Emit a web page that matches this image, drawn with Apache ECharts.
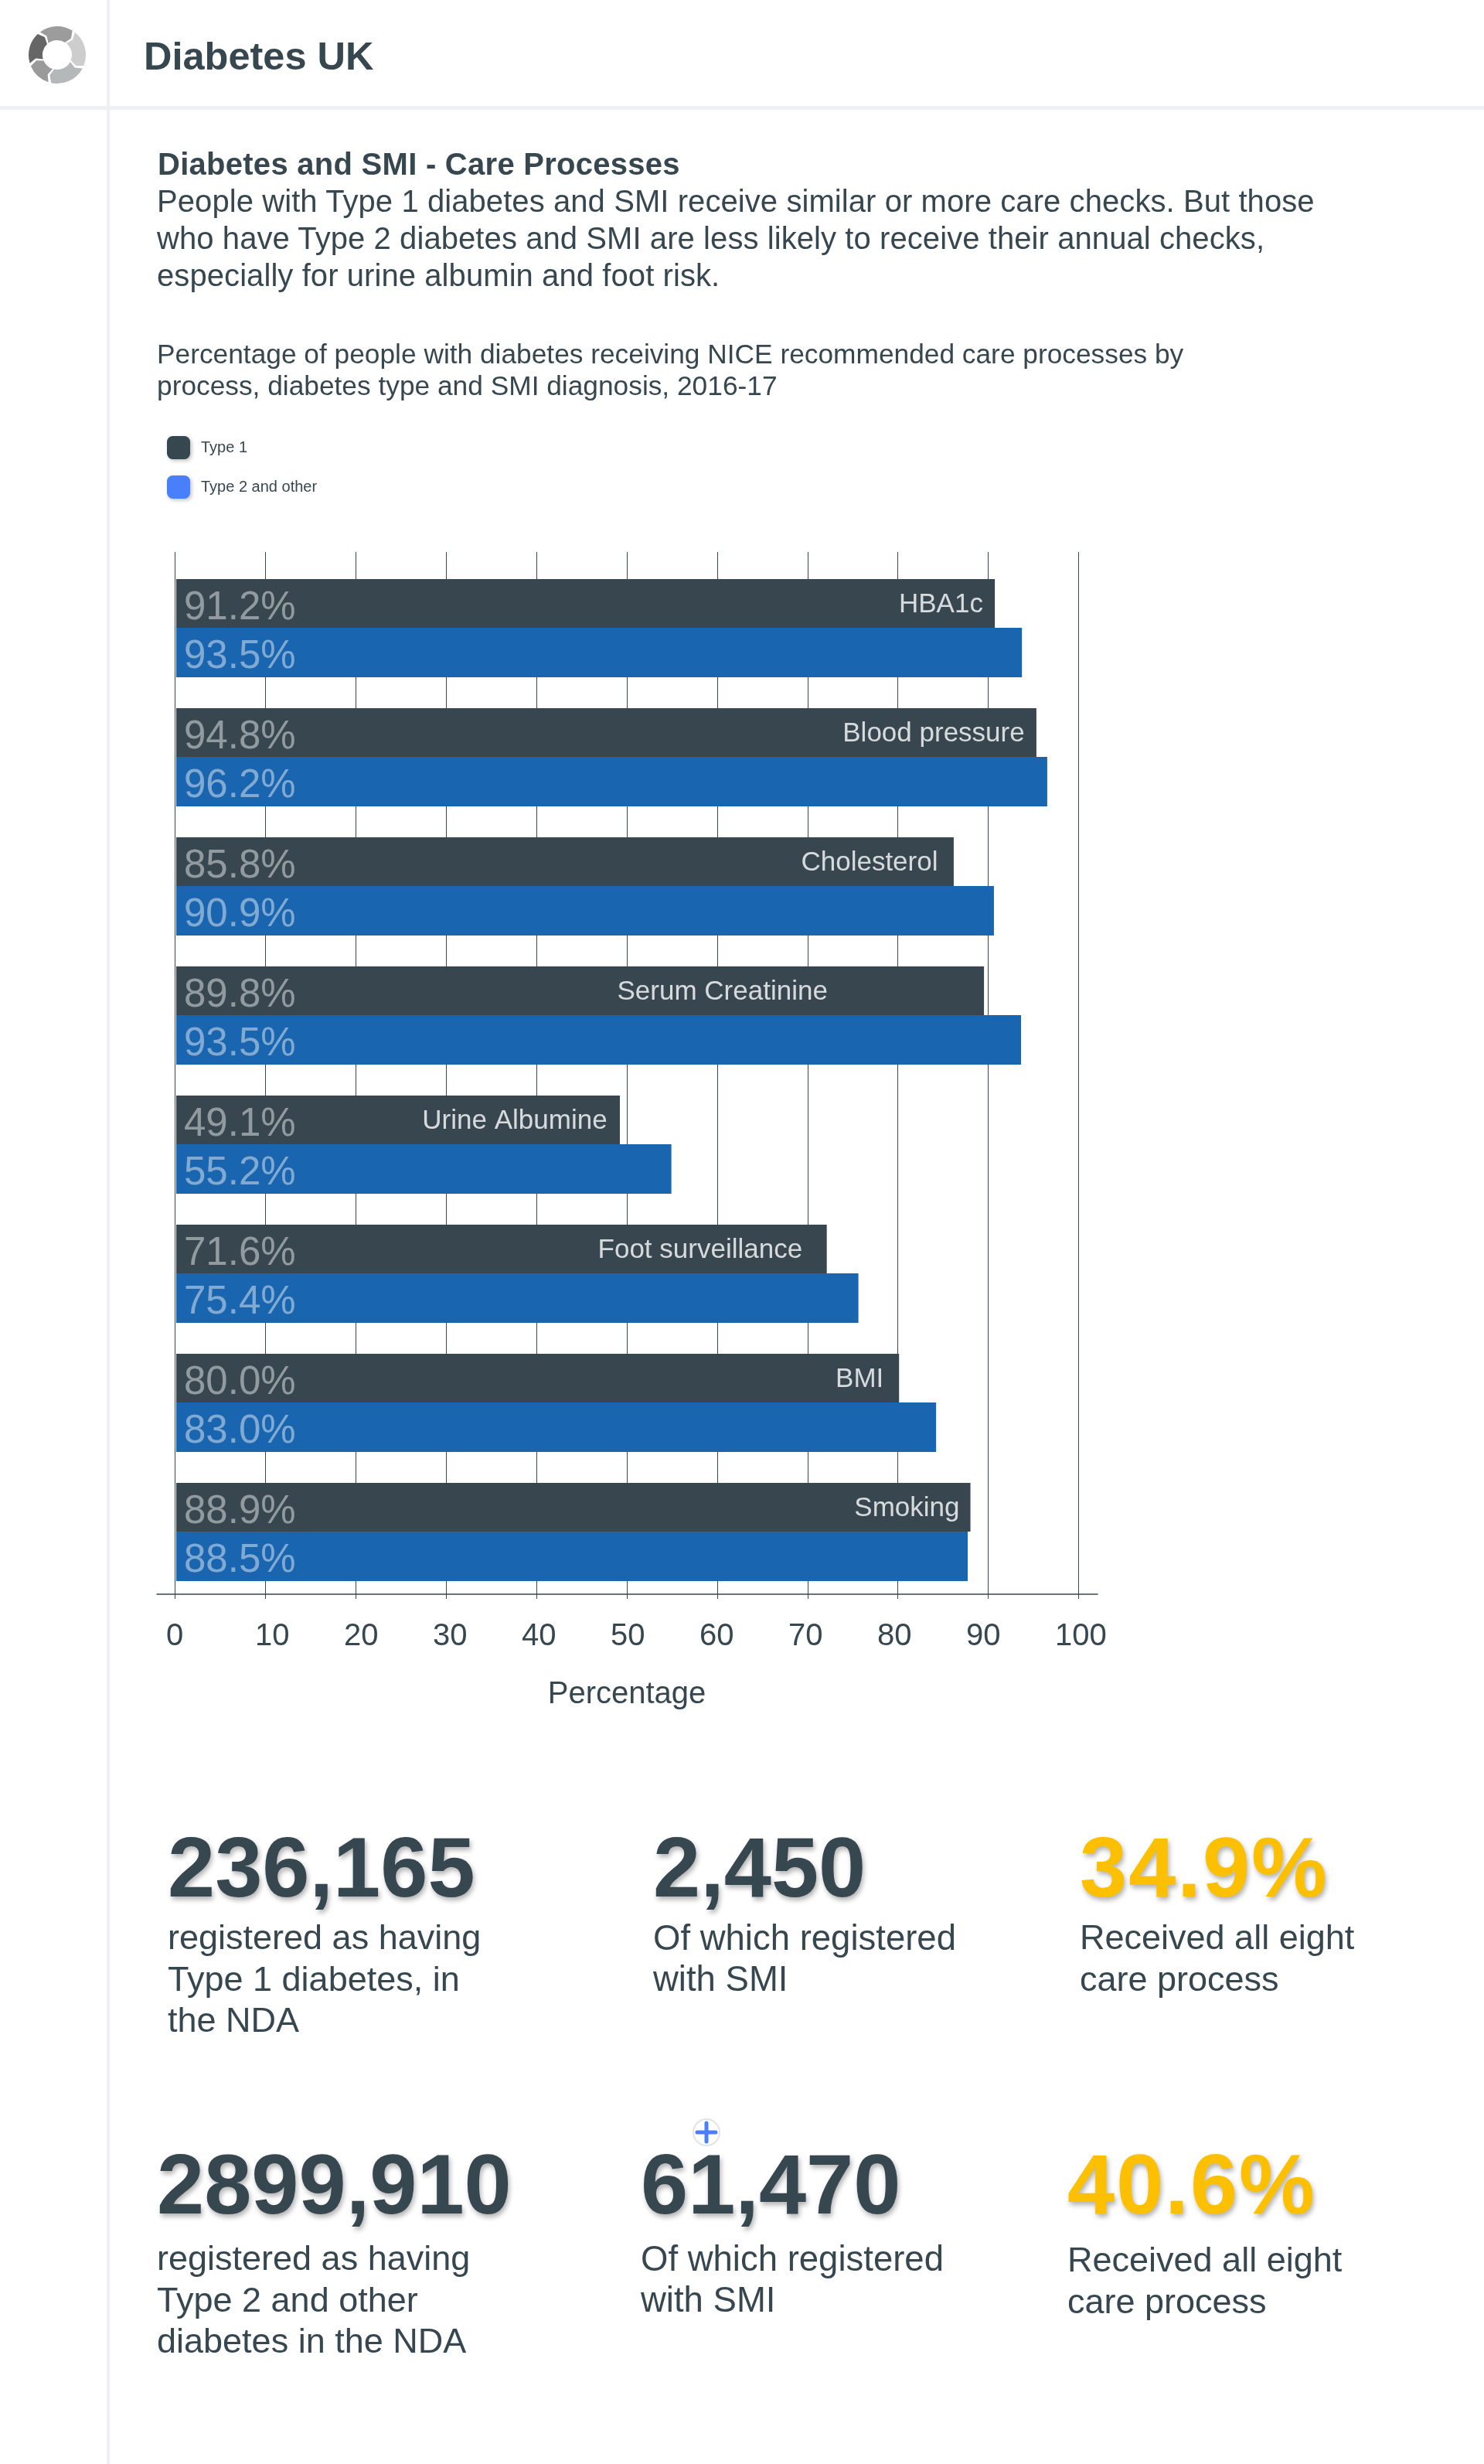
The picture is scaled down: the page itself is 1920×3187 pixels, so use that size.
<!DOCTYPE html>
<html>
<head>
<meta charset="utf-8">
<title>Diabetes UK</title>
<script src="https://cdn.jsdelivr.net/npm/echarts@6/dist/echarts.min.js"></script>
<style>
html,body{margin:0;padding:0;background:#fff;width:1920px;height:3187px;overflow:hidden;}
body{font-family:"Liberation Sans",Arial,sans-serif;color:#37474f;}
#chart{position:absolute;left:0;top:0;width:1920px;height:3187px;}
.t{position:absolute;white-space:nowrap;}
.rule{position:absolute;background:#eff0f4;}
#logo,#plus{position:absolute;}
</style>
</head>
<body>
<div id="chart"></div>
<div class="rule" style="left:138px;top:0;width:4px;height:3187px"></div>
<div class="rule" style="left:0;top:137px;width:1920px;height:5px"></div>
<svg id="logo" style="left:35px;top:32px" width="78" height="78" viewBox="0 0 78 78"></svg>
<svg id="plus" style="left:896px;top:2740px" width="36" height="36" viewBox="0 0 36 36">
  <circle cx="18" cy="18" r="17" fill="#fff" stroke="#e3e3e3" stroke-width="2"/>
  <path d="M18 6V30M6 18H30" stroke="#4a7ffb" stroke-width="5" stroke-linecap="round"/>
</svg>
<script>
// ---- data ----
const categories = ['HBA1c','Blood pressure','Cholesterol','Serum Creatinine','Urine Albumine','Foot surveillance','BMI','Smoking'];
const type1Bars = [90.6,95.2,86.05,89.4,49.1,72.0,80.0,87.9];
const type2Bars = [93.6,96.4,90.5,93.5,54.8,75.5,84.1,87.6];
const type1Labels = ['91.2%','94.8%','85.8%','89.8%','49.1%','71.6%','80.0%','88.9%'];
const type2Labels = ['93.5%','96.2%','90.9%','93.5%','55.2%','75.4%','83.0%','88.5%'];
const nameLabelEnds = [89.3,93.9,84.3,72.1,47.7,69.3,78.3,86.7];
const axisTicks = [0,100,10];
const seriesNames = ['Type 1','Type 2 and other'];
const heading = 'Diabetes UK';
const introTitle = 'Diabetes and SMI - Care Processes';
const introLines = ['People with Type 1 diabetes and SMI receive similar or more care checks. But those','who have Type 2 diabetes and SMI are less likely to receive their annual checks,','especially for urine albumin and foot risk.'];
const chartTitle = 'Percentage of people with diabetes receiving NICE recommended care processes by\nprocess, diabetes type and SMI diagnosis, 2016-17';
const xName = 'Percentage';
const stats = [
 {n:'236,165', c:'#37474f', x:217, b:2453, lines:['registered as having','Type 1 diabetes, in','the NDA'], tb:2521},
 {n:'2,450',   c:'#37474f', x:845, b:2453, lines:['Of which registered','with SMI'], tb:2521, ts:45.5},
 {n:'34.9%',   c:'#fcc000', x:1397, b:2453, ls:2, lines:['Received all eight','care process'], tb:2521},
 {n:'2899,910',c:'#37474f', x:203, b:2863, lines:['registered as having','Type 2 and other','diabetes in the NDA'], tb:2936},
 {n:'61,470',  c:'#37474f', x:829, b:2863, lines:['Of which registered','with SMI'], tb:2936, ts:45.5},
 {n:'40.6%',   c:'#fcc000', x:1381, b:2863, ls:2, lines:['Received all eight','care process'], tb:2938}
];

// ---- logo ----
(function(){
  const cx=39,cy=39,R=37,r=19,segs=[[-40,35,'#9c9c9c'],[35,115,'#cdcdcd'],[115,195,'#b5b8b8'],[195,250,'#9a9a9a'],[250,320,'#666']];
  const pt=(a,rad)=>{const t=(a-90)*Math.PI/180;return (cx+rad*Math.cos(t)).toFixed(1)+' '+(cy+rad*Math.sin(t)).toFixed(1);};
  document.getElementById('logo').innerHTML=segs.map(s=>{
    const a=s[0]+3,b=s[1]-3,m=(R+r)/2;
    return `<path fill="${s[2]}" d="M${pt(a,R)} A${R} ${R} 0 0 1 ${pt(b,R)} L${pt(b+8,m)} L${pt(b,r)} A${r} ${r} 0 0 0 ${pt(a,r)} L${pt(a+8,m)} Z"/>`;
  }).join('');
})();

// ---- page text ----
function put(str,x,base,size,opts){
  opts=opts||{};
  const d=document.createElement('div');d.className='t';d.textContent=str;
  const lh=Math.round(size*1.2);
  d.style.cssText+=`left:${x}px;top:${base-((lh-1.117*size)/2+0.905*size)}px;font-size:${size}px;line-height:${lh}px;`+
    (opts.bold?'font-weight:bold;':'')+(opts.color?`color:${opts.color};`:'')+(opts.ls?`letter-spacing:${opts.ls}px;`:'')+(opts.shadow?'text-shadow:2px 4px 6px rgba(0,0,0,.3);':'');
  document.body.appendChild(d);
}
put(heading,186,90,50.5,{bold:true});
put(introTitle,204,226,40,{bold:true,ls:0.27});
introLines.forEach((l,i)=>put(l,203,274+i*48,40,{ls:0.08}));
stats.forEach(s=>{
  put(s.n,s.x,s.b,110,{bold:true,color:s.c,shadow:true,ls:s.ls});
  s.lines.forEach((l,i)=>put(l,s.x,s.tb+1+i*53.5,s.ts||45));
});

// ---- chart ----
const ink='#37474f', font='"Liberation Sans",Arial,sans-serif';
const chart=echarts.init(document.getElementById('chart'),null,{renderer:'canvas'});
const hiddenY=(g)=>({type:'value',gridIndex:g,show:false,min:0,max:1});
chart.setOption({
  animation:false,
  textStyle:{fontFamily:font,color:ink},
  title:{text:chartTitle,left:198,top:435,textStyle:{fontFamily:font,fontWeight:'normal',fontSize:35.3,lineHeight:41,color:ink}},
  legend:{
    orient:'vertical',left:216,top:564,itemWidth:30,itemHeight:30,itemGap:21,icon:'roundRect',
    textStyle:{fontFamily:font,fontSize:20,color:ink,padding:[5,0,0,9]},padding:0,
    data:[
      {name:seriesNames[0],itemStyle:{color:'#37474f',shadowColor:'rgba(0,0,0,.25)',shadowBlur:5,shadowOffsetX:2,shadowOffsetY:2}},
      {name:seriesNames[1],itemStyle:{color:'#4a7ffb',shadowColor:'rgba(0,0,0,.25)',shadowBlur:5,shadowOffsetX:2,shadowOffsetY:2}}
    ]
  },
  grid:[
    {left:228,width:1169,top:729,height:1336},   // bars
    {left:226.5,width:1169,top:714,height:1348}, // gridlines, ticks, axis name
    {left:215,width:1150,top:714,height:1348},   // left-aligned tick labels
    {left:203,width:1217,top:714,height:1348}    // axis baseline
  ],
  xAxis:[
    {type:'value',gridIndex:0,min:0,max:100,show:false},
    {type:'value',gridIndex:1,min:axisTicks[0],max:axisTicks[1],interval:axisTicks[2],
     axisLine:{show:false},axisLabel:{show:false},
     axisTick:{show:true,length:6,lineStyle:{color:ink,width:1}},
     splitLine:{show:true,lineStyle:{color:ink,width:1}},
     name:xName,nameLocation:'middle',nameGap:110,nameTextStyle:{fontFamily:font,fontSize:40,color:ink}},
    {type:'value',gridIndex:2,min:axisTicks[0],max:axisTicks[1],interval:axisTicks[2],
     axisLine:{show:false},axisTick:{show:false},splitLine:{show:false},
     axisLabel:{show:true,align:'left',margin:35,fontFamily:font,fontSize:40,color:ink,showMinLabel:true,showMaxLabel:true,hideOverlap:false}},
    {type:'value',gridIndex:3,min:0,max:1,
     axisLine:{show:true,onZero:false,lineStyle:{color:ink,width:1.5}},axisTick:{show:false},axisLabel:{show:false},splitLine:{show:false}}
  ],
  yAxis:[
    {type:'category',gridIndex:0,data:categories,inverse:true,show:false},
    hiddenY(1),hiddenY(2),hiddenY(3)
  ],
  series:[
    {name:seriesNames[0],type:'bar',xAxisIndex:0,yAxisIndex:0,data:type1Bars,barWidth:63,barGap:0,
     itemStyle:{color:'#38474f'},z:3,
     label:{show:true,position:'insideLeft',distance:10,offset:[0,6],fontFamily:font,fontSize:51,color:'rgba(255,255,255,.45)',
       formatter:p=>type1Labels[p.dataIndex]}},
    {name:seriesNames[1],type:'bar',xAxisIndex:0,yAxisIndex:0,data:type2Bars,barWidth:64,barGap:0,
     itemStyle:{color:'#1a65b0'},z:3,
     label:{show:true,position:'insideLeft',distance:10,offset:[0,6],fontFamily:font,fontSize:51,color:'rgba(255,255,255,.45)',
       formatter:p=>type2Labels[p.dataIndex]}},
    {name:'labels',type:'scatter',xAxisIndex:0,yAxisIndex:0,symbolSize:0,z:5,silent:true,
     data:nameLabelEnds.map((v,i)=>[v,categories[i]]),
     label:{show:true,position:'left',distance:0,offset:[0,-30],fontFamily:font,fontSize:35,color:'#fff',
       formatter:p=>categories[p.dataIndex]}}
  ]
});
</script>
</body>
</html>
